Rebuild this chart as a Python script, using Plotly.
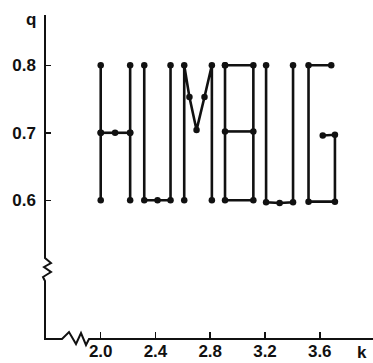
import plotly.graph_objects as go

# ---- data: strokes of the HUMBUG letters (k, q) ----
h_left_k = [2.0, 2.0, 2.0]
h_left_q = [0.8, 0.7, 0.6]
h_bar_k = [2.0, 2.105, 2.215]
h_bar_q = [0.7, 0.7, 0.7]
h_right_k = [2.215, 2.215, 2.215]
h_right_q = [0.8, 0.7, 0.6]
u1_k = [2.318, 2.318, 2.415, 2.51, 2.51]
u1_q = [0.8, 0.6, 0.6, 0.6, 0.8]
m_k = [2.61, 2.61, 2.648, 2.70, 2.758, 2.812, 2.812]
m_q = [0.6, 0.8, 0.753, 0.704, 0.753, 0.8, 0.6]
b_outer_k = [2.908, 3.115, 3.115, 2.908, 2.908]
b_outer_q = [0.8, 0.8, 0.6, 0.6, 0.8]
b_bar_k = [2.908, 3.115]
b_bar_q = [0.702, 0.702]
u2_k = [3.208, 3.208, 3.307, 3.405, 3.405]
u2_q = [0.8, 0.597, 0.596, 0.597, 0.8]
g_k = [3.684, 3.518, 3.518, 3.711, 3.711, 3.622]
g_q = [0.8, 0.8, 0.598, 0.598, 0.697, 0.696]

strokes = [
    (h_left_k, h_left_q), (h_bar_k, h_bar_q), (h_right_k, h_right_q),
    (u1_k, u1_q), (m_k, m_q), (b_outer_k, b_outer_q), (b_bar_k, b_bar_q),
    (u2_k, u2_q), (g_k, g_q),
]

x_ticks = [2.0, 2.4, 2.8, 3.2, 3.6]
x_tick_labels = ["2.0", "2.4", "2.8", "3.2", "3.6"]
y_ticks = [0.6, 0.7, 0.8]
y_tick_labels = ["0.6", "0.7", "0.8"]

W, H = 373, 363
ML, MR, MT, MB = 45, 0, 15, 24

fig = go.Figure()
for ks, qs in strokes:
    fig.add_trace(go.Scatter(
        x=ks, y=qs, mode="lines+markers",
        line=dict(color="#111111", width=2.6),
        marker=dict(color="#111111", size=6.5),
        showlegend=False, hoverinfo="skip",
    ))

# axis lines with break marks, in pixel coords converted to paper coords
pw, ph = W - ML - MR, H - MT - MB
def P(X, Y):
    return f"{(X - ML) / pw:.5f},{(H - MB - Y) / ph:.5f}"

pts = [(45, 15), (45, 258), (51, 263), (44, 267), (51, 272), (43, 277), (45, 281),
       (45, 339), (62, 339), (69, 332), (76, 344), (81, 333), (86, 345), (89, 339),
       (373, 339)]
path = "M " + " L ".join(P(x, y) for x, y in pts)
fig.add_shape(type="path", path=path, xref="paper", yref="paper",
              line=dict(color="#111111", width=2))

font = dict(family="Liberation Sans, Arial, sans-serif", size=17, color="#111111",
            weight="bold")

fig.update_layout(
    width=W, height=H,
    margin=dict(l=ML, r=MR, t=MT, b=MB, pad=0, autoexpand=False),
    paper_bgcolor="white", plot_bgcolor="white",
    xaxis=dict(range=[1.593, 3.989], showgrid=False, zeroline=False, showline=False,
               automargin=False,
               tickmode="array", tickvals=x_ticks, ticktext=x_tick_labels,
               ticks="inside", ticklen=7, tickwidth=1.5, tickcolor="#111111",
               tickfont=font, ticklabelstandoff=0),
    yaxis=dict(range=[0.3945, 0.8745], showgrid=False, zeroline=False, showline=False,
               automargin=False,
               tickmode="array", tickvals=y_ticks, ticktext=y_tick_labels,
               ticks="inside", ticklen=6, tickwidth=1.5, tickcolor="#111111",
               tickfont=font, ticklabelstandoff=8),
    annotations=[
        dict(text="q", xref="paper", yref="paper", x=(31 - ML) / pw, y=(H - MB - 19) / ph,
             showarrow=False, font=font, xanchor="center", yanchor="middle"),
        dict(text="k", xref="paper", yref="paper", x=(362 - ML) / pw, y=(H - MB - 352) / ph,
             showarrow=False, font=font, xanchor="center", yanchor="middle"),
    ],
)

fig.write_html("out.html", config={"displayModeBar": False, "staticPlot": True},
               post_script="document.body.style.margin='0';document.body.style.overflow='hidden';")
